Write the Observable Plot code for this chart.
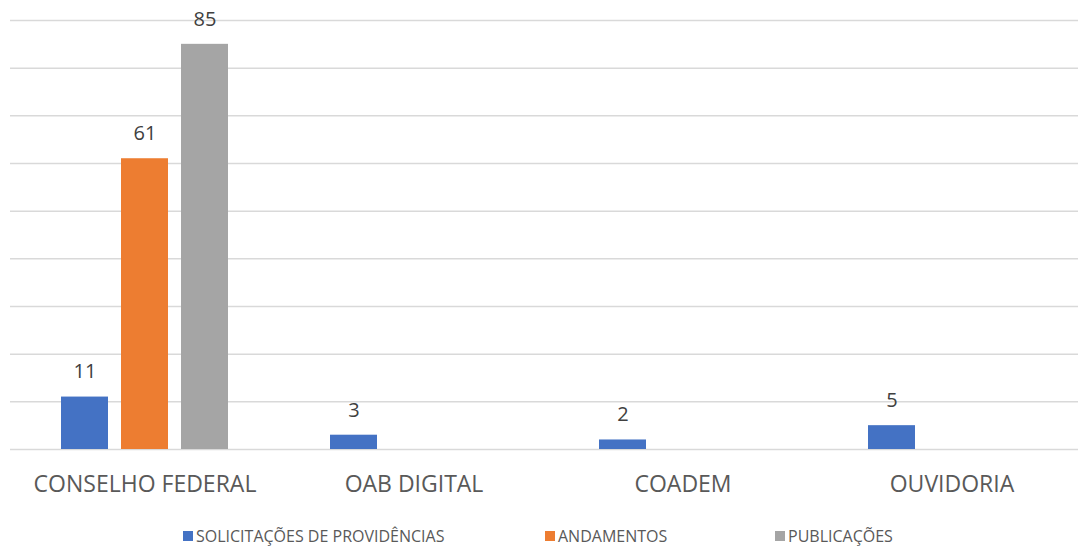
<!DOCTYPE html>
<html><head><meta charset="utf-8">
<script src="https://cdn.jsdelivr.net/npm/d3@7"></script>
<script src="https://cdn.jsdelivr.net/npm/@observablehq/plot@0.6"></script>
<style>
html,body{margin:0;background:#fff;font-family:"Open Sans",sans-serif;overflow:hidden}
#chart{width:1078px;overflow:hidden}
#chart svg{max-width:none !important}
#legend{position:relative;height:37px;width:1078px}
.item{position:absolute;top:18px;display:flex;align-items:center;font-size:16px;color:#595959;line-height:16px}
.sw{width:10px;height:10px;margin-right:3px;display:inline-block}
</style>
</head><body><div id="chart"></div><div id="legend"></div>
<script>
const categories = ["CONSELHO FEDERAL", "OAB DIGITAL", "COADEM", "OUVIDORIA"];
const series = ["SOLICITAÇÕES DE PROVIDÊNCIAS", "ANDAMENTOS", "PUBLICAÇÕES"];
const solicitacoes = [11, 3, 2, 5];
const andamentos = [61, null, null, null];
const publicacoes = [85, null, null, null];
const colors = ["#4472C4", "#ED7D31", "#A5A5A5"];
const yTicks = [0, 10, 20, 30, 40, 50, 60, 70, 80, 90];

const seriesValues = [solicitacoes, andamentos, publicacoes];
const rows = [];
categories.forEach((c, i) => {
  series.forEach((s, j) => {
    const v = seriesValues[j][i];
    if (v != null) rows.push({category: c, series: s, value: v});
  });
});

const chart = Plot.plot({
  width: 1086, height: 510,
  marginLeft: 10, marginRight: 0, marginTop: 20, marginBottom: 61,
  style: {fontFamily: "Open Sans, sans-serif", color: "#595959", background: "#fff", display: "block", maxWidth: "none"},
  fx: {domain: categories, padding: 0, label: null, axis: null},
  x: {domain: series, paddingInner: 0.2167, paddingOuter: 0.833, axis: null},
  y: {domain: [0, 90], axis: null},
  color: {domain: series, range: colors},
  marks: [
    Plot.ruleY(yTicks, {stroke: "#d9d9d9", strokeWidth: 1.5}),
    Plot.barY(rows, {fx: "category", x: "series", y: "value", fill: "series"}),
    Plot.text(rows, {fx: "category", x: "series", y: "value", text: d => String(d.value), dy: -25, fontSize: 20, fill: "#404040"}),
    Plot.axisFx({anchor: "bottom", tickSize: 0, tickPadding: 26, fontSize: 23, label: null})
  ]
});
document.getElementById("chart").appendChild(chart);

const legendLefts = [183, 545, 775];
const legend = document.getElementById("legend");
series.forEach((s, i) => {
  const it = document.createElement("div");
  it.className = "item";
  it.style.left = legendLefts[i] + "px";
  it.innerHTML = `<span class="sw" style="background:${colors[i]}"></span><span>${s}</span>`;
  legend.appendChild(it);
});
</script>
</body></html>
